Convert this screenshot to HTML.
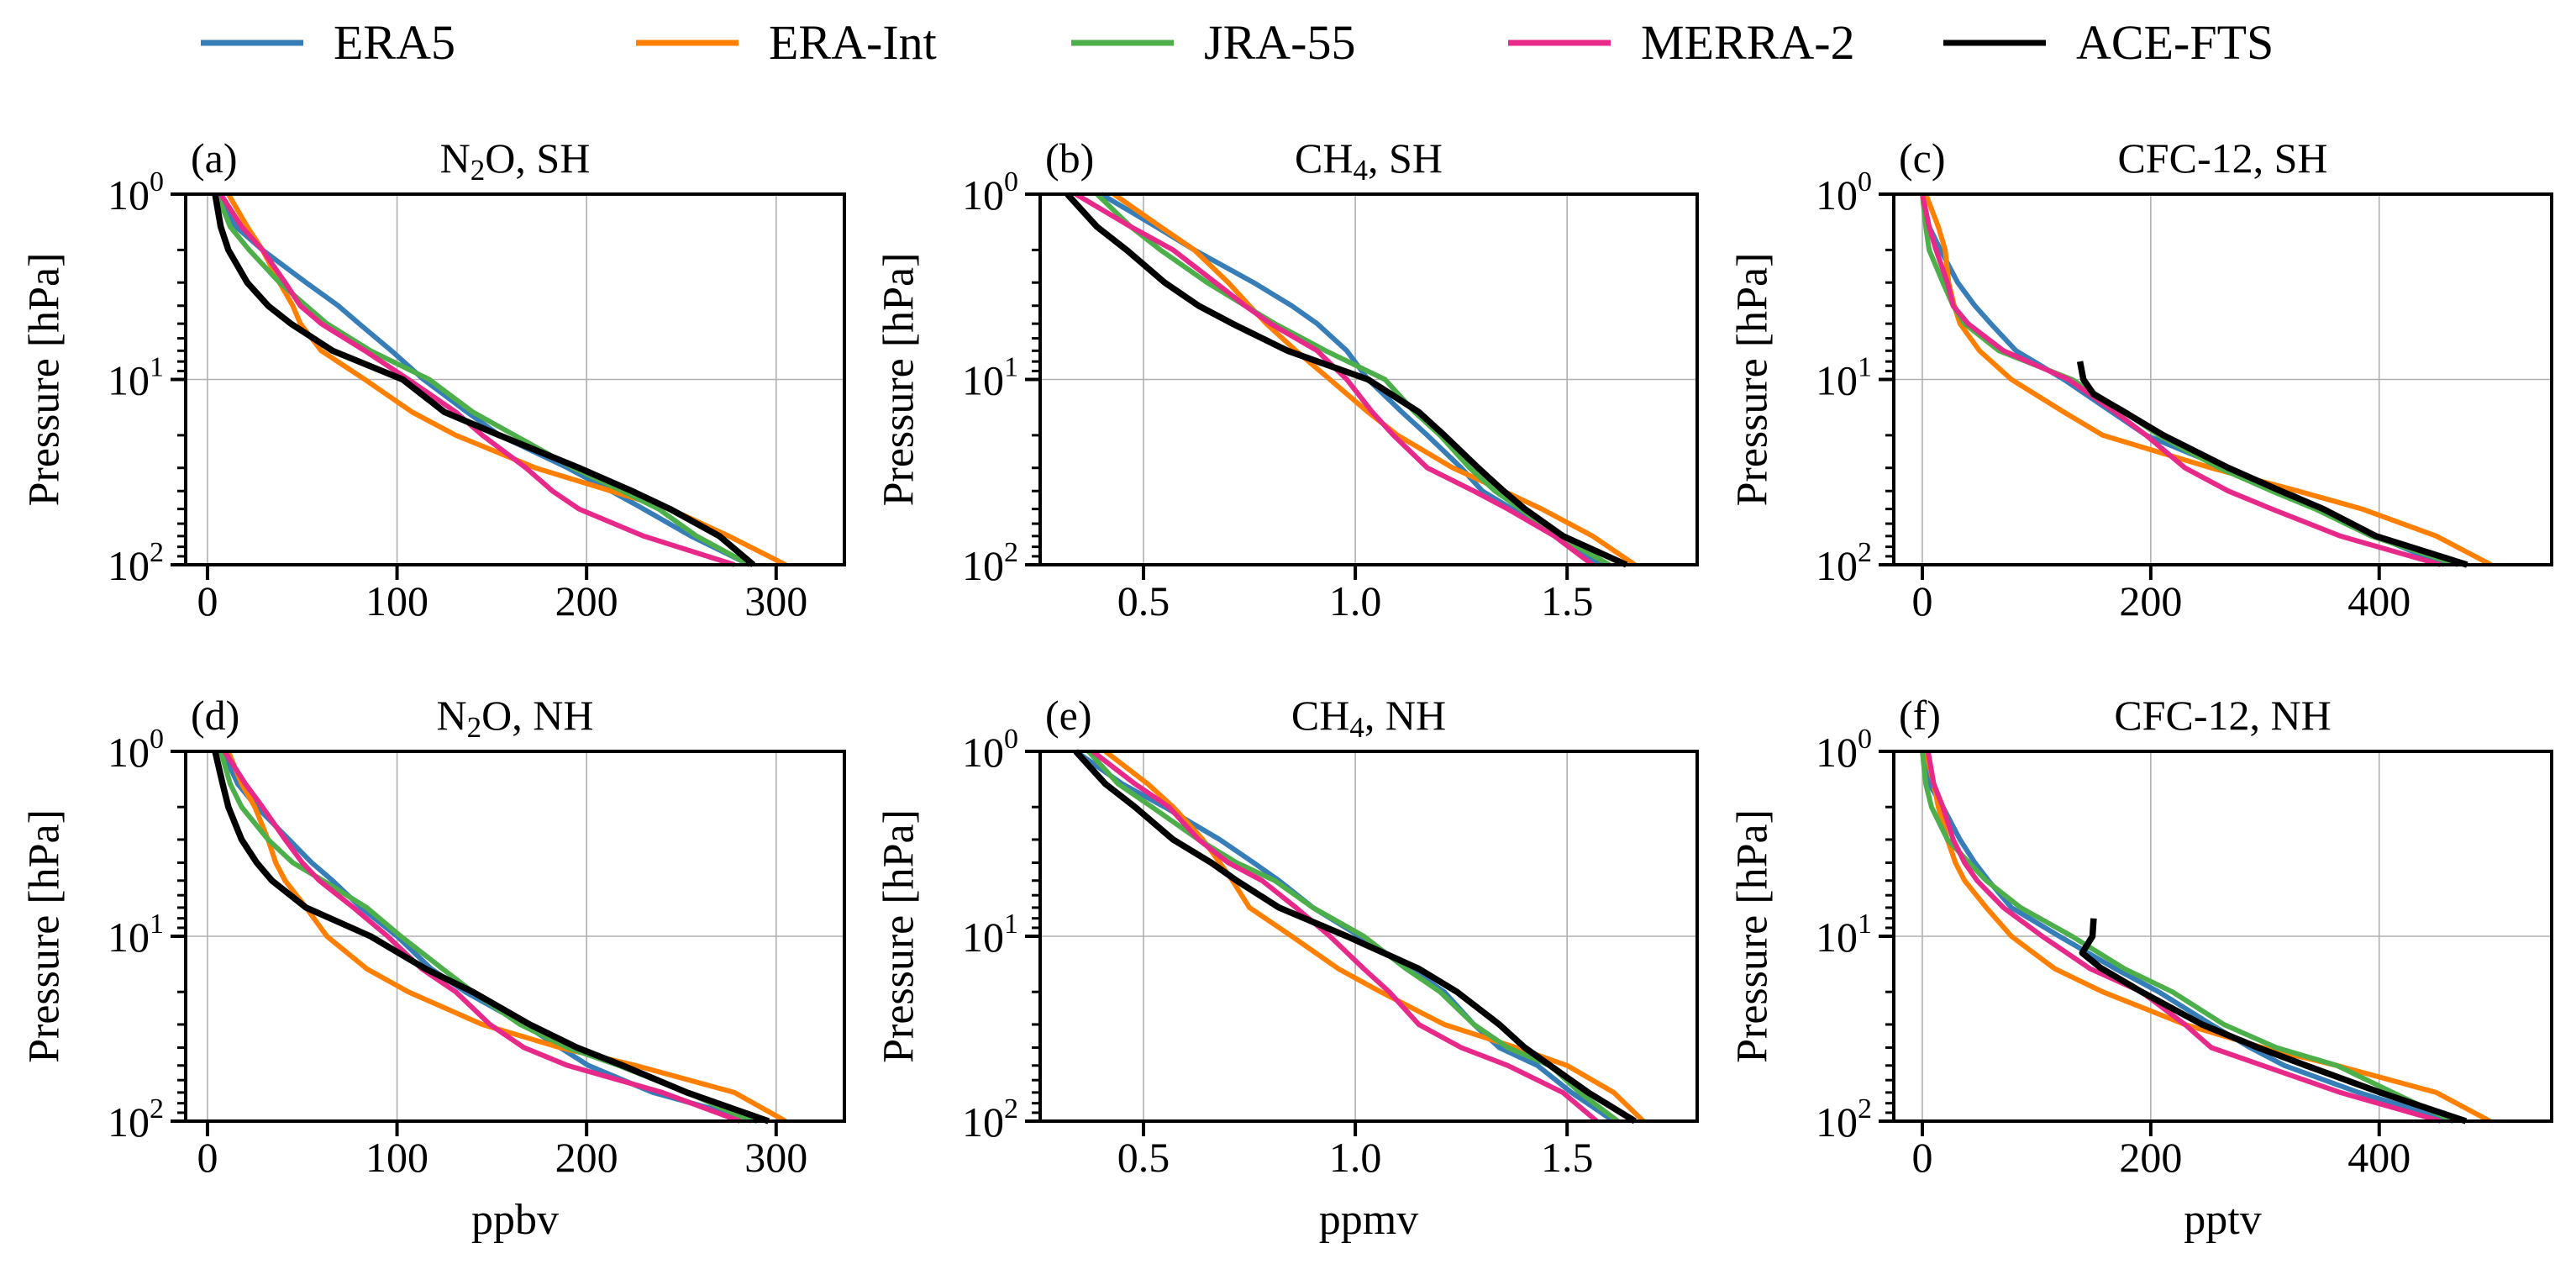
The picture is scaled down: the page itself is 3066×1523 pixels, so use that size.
<!DOCTYPE html>
<html><head><meta charset="utf-8">
<style>
html,body{margin:0;padding:0;background:#fff;}
svg{display:block;}
text{font-family:"Liberation Serif","DejaVu Serif",serif;fill:#000;}
</style></head>
<body>
<svg id="fig" width="3066" height="1523" viewBox="0 0 3066 1523" xmlns="http://www.w3.org/2000/svg"></svg>
<script>
// ---- data ----
const levels = [1,1.5,2,3,4,5,7,10,15,20,30,40,50,70,100];
const seriesNames = ["ERA5","ERA-Int","JRA-55","MERRA-2","ACE-FTS"];
const seriesColors = ["#377eb8","#ff7f00","#4daf4a","#e7298a","#000000"];

const n2oSH_era5  = [4,15,29,52,69,80,97,114,137,154,190,213,230,255,286];
const n2oSH_eraI  = [11,21,29,38,45,49,60,83,108,131,173,213,244,275,305];
const n2oSH_jra   = [5,12,22,38,52,63,86,117,140,162,193,219,238,258,286];
const n2oSH_merra = [7,18,29,41,49,60,83,106,131,145,168,182,196,230,278];
const n2oSH_ace   = [4,7,11,21,32,44,66,103,125,154,196,224,244,270,288];

const ch4SH_era5  = [0.40,0.53,0.62,0.76,0.85,0.91,0.98,1.03,1.11,1.17,1.25,1.30,1.37,1.48,1.58];
const ch4SH_eraI  = [0.43,0.54,0.62,0.70,0.75,0.79,0.86,0.94,1.03,1.10,1.23,1.35,1.44,1.56,1.66];
const ch4SH_jra   = [0.39,0.47,0.54,0.65,0.74,0.81,0.93,1.07,1.14,1.20,1.27,1.33,1.39,1.48,1.60];
const ch4SH_merra = [0.34,0.47,0.57,0.67,0.74,0.80,0.91,0.98,1.04,1.09,1.17,1.28,1.36,1.47,1.56];
const ch4SH_ace   = [0.32,0.39,0.46,0.55,0.63,0.71,0.84,1.03,1.15,1.21,1.29,1.35,1.40,1.49,1.64];

const cfcSH_era5  = [0,6,16,31,46,60,82,124,166,196,265,317,351,397,457];
const cfcSH_eraI  = [3,14,20,23,28,33,50,78,124,158,253,329,385,450,498];
const cfcSH_jra   = [0,3,6,18,27,37,67,131,177,207,260,306,344,393,469];
const cfcSH_merra = [0,6,12,22,27,40,71,128,169,196,230,268,306,366,454];
const acePressSH  = [8,10,12,15,20,30,40,50,70,100];
const cfcSH_ace   = [138,141,150,177,211,268,314,351,397,477];

const n2oNH_era5  = [8,16,26,43,55,66,81,100,118,136,167,186,201,235,290];
const n2oNH_eraI  = [11,18,25,32,36,41,52,63,84,106,145,186,226,278,305];
const n2oNH_jra   = [7,12,18,32,45,61,84,102,124,140,165,190,217,253,287];
const n2oNH_merra = [9,20,29,41,50,59,77,95,113,131,149,167,190,240,281];
const n2oNH_ace   = [4,8,11,18,26,34,52,86,115,140,170,195,219,253,296];

const ch4NH_era5  = [0.34,0.45,0.55,0.68,0.76,0.82,0.90,1.01,1.13,1.21,1.28,1.34,1.43,1.51,1.61];
const ch4NH_eraI  = [0.41,0.51,0.57,0.64,0.68,0.71,0.75,0.85,0.96,1.06,1.21,1.38,1.50,1.61,1.68];
const ch4NH_jra   = [0.37,0.44,0.52,0.63,0.72,0.81,0.90,1.02,1.12,1.20,1.28,1.36,1.46,1.53,1.62];
const ch4NH_merra = [0.38,0.48,0.56,0.63,0.70,0.78,0.86,0.94,1.02,1.08,1.15,1.25,1.36,1.49,1.57];
const ch4NH_ace   = [0.34,0.41,0.48,0.57,0.66,0.72,0.82,0.98,1.15,1.24,1.34,1.40,1.46,1.55,1.66];

const cfcNH_era5  = [0,6,18,33,46,58,78,120,169,207,253,287,317,382,465];
const cfcNH_eraI  = [3,10,14,22,29,37,56,78,116,158,230,298,363,450,497];
const cfcNH_jra   = [0,3,8,22,41,56,86,131,177,219,264,310,363,412,465];
const cfcNH_merra = [5,10,18,27,37,48,71,105,147,192,230,253,298,366,454];
const acePressNH  = [8,10,12.3,14.8,20,30,40,50,70,100];
const cfcNH_ace   = [150,149,140,156,192,245,294,336,401,476];

const xTicksN2O = [0,100,200,300];
const xTicksCH4 = [0.5,1.0,1.5];
const xTicksCFC = [0,200,400];
const xTickLabelsN2O = ["0","100","200","300"];
const xTickLabelsCH4 = ["0.5","1.0","1.5"];
const xTickLabelsCFC = ["0","200","400"];
const yTickExps = [0,1,2];

// ---- layout ----
const panels = [
 {id:"a",letter:"(a)",sp:"N",sub:"2",rest:"O, SH",x0:221,x1:1005,y0:231,y1:672,xmin:-11.5,xmax:336,ticks:xTicksN2O,labels:xTickLabelsN2O,xl:null,
  series:[n2oSH_era5,n2oSH_eraI,n2oSH_jra,n2oSH_merra,n2oSH_ace],aceP:levels},
 {id:"b",letter:"(b)",sp:"CH",sub:"4",rest:", SH",x0:1238,x1:2020,y0:231,y1:672,xmin:0.256,xmax:1.807,ticks:xTicksCH4,labels:xTickLabelsCH4,xl:null,
  series:[ch4SH_era5,ch4SH_eraI,ch4SH_jra,ch4SH_merra,ch4SH_ace],aceP:levels},
 {id:"c",letter:"(c)",sp:"CFC-12, SH",sub:null,rest:"",x0:2254,x1:3037,y0:231,y1:672,xmin:-25,xmax:551,ticks:xTicksCFC,labels:xTickLabelsCFC,xl:null,
  series:[cfcSH_era5,cfcSH_eraI,cfcSH_jra,cfcSH_merra,cfcSH_ace],aceP:acePressSH},
 {id:"d",letter:"(d)",sp:"N",sub:"2",rest:"O, NH",x0:221,x1:1005,y0:894,y1:1334,xmin:-11.5,xmax:336,ticks:xTicksN2O,labels:xTickLabelsN2O,xl:"ppbv",
  series:[n2oNH_era5,n2oNH_eraI,n2oNH_jra,n2oNH_merra,n2oNH_ace],aceP:levels},
 {id:"e",letter:"(e)",sp:"CH",sub:"4",rest:", NH",x0:1238,x1:2020,y0:894,y1:1334,xmin:0.256,xmax:1.807,ticks:xTicksCH4,labels:xTickLabelsCH4,xl:"ppmv",
  series:[ch4NH_era5,ch4NH_eraI,ch4NH_jra,ch4NH_merra,ch4NH_ace],aceP:levels},
 {id:"f",letter:"(f)",sp:"CFC-12, NH",sub:null,rest:"",x0:2254,x1:3037,y0:894,y1:1334,xmin:-25,xmax:551,ticks:xTicksCFC,labels:xTickLabelsCFC,xl:"pptv",
  series:[cfcNH_era5,cfcNH_eraI,cfcNH_jra,cfcNH_merra,cfcNH_ace],aceP:acePressNH}
];

const NS="http://www.w3.org/2000/svg";
const svg=document.getElementById("fig");
function mk(tag,attrs,parent){const e=document.createElementNS(NS,tag);for(const k in attrs)e.setAttribute(k,attrs[k]);(parent||svg).appendChild(e);return e;}

// legend
const legendX=[239,757,1275,1795,2313];
seriesNames.forEach((nm,i)=>{
  const g=mk("g",{});
  
  
  const ln=mk("line",{x1:legendX[i],x2:legendX[i]+122,y1:51,y2:51,stroke:seriesColors[i],"stroke-width":7},g);
  
  
  const t=mk("text",{x:legendX[i]+158,y:70,"font-size":58},g);
  
  
  t.textContent=nm;
});

panels.forEach(P=>{
  const g=mk("g",{});
  
  
  const sx=v=>P.x0+(v-P.xmin)/(P.xmax-P.xmin)*(P.x1-P.x0);
  const sy=p=>P.y0+Math.log10(p)/2*(P.y1-P.y0);
  P.ticks.forEach(v=>{
    const l=mk("line",{x1:sx(v),x2:sx(v),y1:P.y0,y2:P.y1,stroke:"#b0b0b0","stroke-width":1.6},g);
    
    
  });
  const gl=mk("line",{x1:P.x0,x2:P.x1,y1:sy(10),y2:sy(10),stroke:"#b0b0b0","stroke-width":1.6},g);
  
  
  const cp=mk("clipPath",{id:"clip"+P.id},g);
  mk("rect",{x:P.x0,y:P.y0-4,width:P.x1-P.x0,height:P.y1-P.y0+8},cp);
  P.series.forEach((vals,i)=>{
    const ps=(i===4)?P.aceP:levels;
    let d="";
    vals.forEach((v,j)=>{d+=(j?"L":"M")+sx(v).toFixed(1)+" "+sy(ps[j]).toFixed(1);});
    const path=mk("path",{d:d,fill:"none",stroke:seriesColors[i],"stroke-width":i===4?7.5:6,"stroke-linejoin":"round","clip-path":"url(#clip"+P.id+")"},g);
    
    
  });
  const fr=mk("rect",{x:P.x0,y:P.y0,width:P.x1-P.x0,height:P.y1-P.y0,fill:"none",stroke:"#000","stroke-width":4},g);
  
  
  P.ticks.forEach((v,k)=>{
    const tk=mk("line",{x1:sx(v),x2:sx(v),y1:P.y1,y2:P.y1+18,stroke:"#000","stroke-width":4},g);
    
    
    const tl=mk("text",{x:sx(v),y:P.y1+60,"font-size":50,"text-anchor":"middle"},g);
    
    
    tl.textContent=P.labels[k];
  });
  yTickExps.forEach(e=>{
    const y=sy(Math.pow(10,e));
    const tk=mk("line",{x1:P.x0-18,x2:P.x0,y1:y,y2:y,stroke:"#000","stroke-width":4},g);
    
    
    const tl=mk("text",{x:P.x0-26,y:y+18,"font-size":50,"text-anchor":"end"},g);
    
    
    tl.textContent="10";
    const sup=mk("tspan",{dy:-22,"font-size":34},tl);
    sup.textContent=String(e);
  });
  [1,10].forEach(b=>{for(let m=2;m<=9;m++){
    const y=sy(b*m);
    const mt=mk("line",{x1:P.x0-10,x2:P.x0,y1:y,y2:y,stroke:"#000","stroke-width":3},g);
    
    
  }});
  const cy=(P.y0+P.y1)/2, lx=P.x0-168;
  const yl=mk("text",{x:lx,y:cy,"font-size":52,"text-anchor":"middle","dominant-baseline":"central",transform:"rotate(-90 "+lx+" "+cy+")"},g);
  
  
  yl.textContent="Pressure [hPa]";
  const lt=mk("text",{x:P.x0+6,y:P.y0-26,"font-size":50},g);
  
  
  lt.textContent=P.letter;
  const tt=mk("text",{x:(P.x0+P.x1)/2,y:P.y0-26,"font-size":50,"text-anchor":"middle"},g);
  
  
  tt.appendChild(document.createTextNode(P.sp));
  if(P.sub){
    const s=mk("tspan",{dy:9,"font-size":35},tt); s.textContent=P.sub;
    const r=mk("tspan",{dy:-9},tt); r.textContent=P.rest;
  }
  if(P.xl){
    const xl=mk("text",{x:(P.x0+P.x1)/2,y:P.y1+134,"font-size":52,"text-anchor":"middle"},g);
    
    
    xl.textContent=P.xl;
  }
});
</script>
</body></html>
